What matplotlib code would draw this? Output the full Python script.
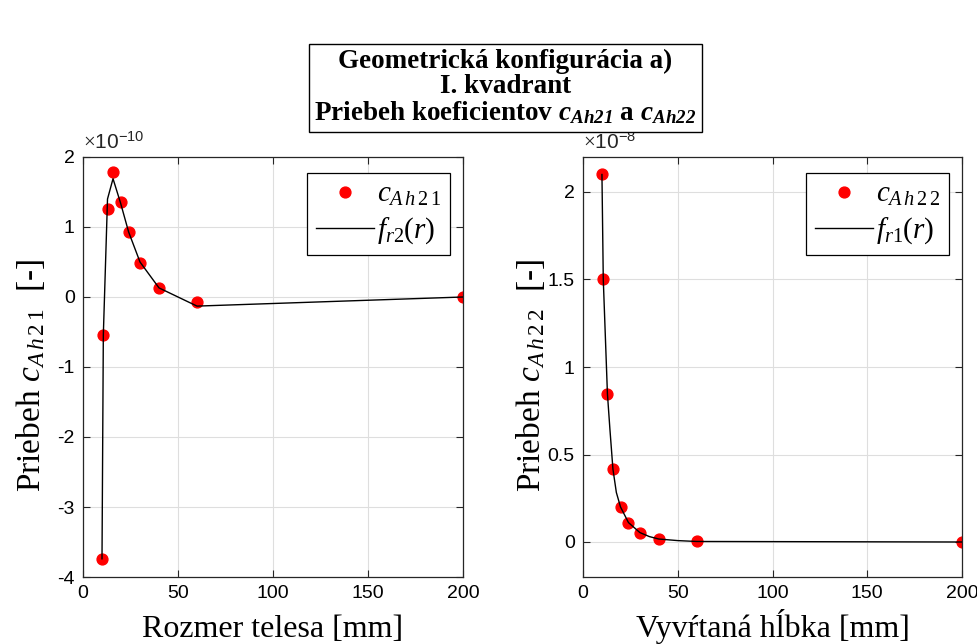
import matplotlib
matplotlib.use('Agg')
from matplotlib import pyplot as plt
from matplotlib.ticker import FuncFormatter

plt.rcParams['mathtext.fontset'] = 'custom'
plt.rcParams['mathtext.rm'] = 'Liberation Serif'
plt.rcParams['mathtext.it'] = 'Liberation Serif:italic'
plt.rcParams['mathtext.bf'] = 'Liberation Serif:bold'
plt.rcParams['mathtext.bfit'] = 'Liberation Serif:italic:bold'
plt.rcParams['mathtext.sf'] = 'Liberation Sans'
plt.rcParams['axes.unicode_minus'] = False

tick_font = ['Liberation Sans Narrow', 'Liberation Sans', 'DejaVu Sans']
serif = ['Liberation Serif', 'DejaVu Serif']

# polomer / hlbka [mm]
r = [10, 10.7, 12.9, 15.8, 19.8, 24, 30, 40, 60, 200]

# c_Ah21 (x 1e-10)
c_ah21 = [-3.74, -0.54, 1.26, 1.79, 1.36, 0.93, 0.49, 0.13, -0.07, 0.0]
# aproximacia f_r2(r)
f_r2_r = [10, 10.7, 12.9, 15.8, 19.8, 24, 30, 40, 60, 200]
f_r2 = [-3.74, -0.54, 1.40, 1.69, 1.34, 0.93, 0.50, 0.13, -0.13, 0.0]

# c_Ah22 (x 1e-8)
c_ah22 = [2.10, 1.50, 0.845, 0.416, 0.20, 0.111, 0.054, 0.017, 0.003, 0.0]
# aproximacia f_r1(r)
f_r1_r = [10, 10.7, 12.9, 14.2, 15.8, 17.6, 19.8, 24, 30, 35, 40, 50, 60, 200]
f_r1 = [2.10, 1.50, 0.845, 0.645, 0.416, 0.283, 0.20, 0.111, 0.054, 0.031,
        0.017, 0.008, 0.003, 0.0]

fig = plt.figure(figsize=(9.77, 6.44), dpi=100)
ax1 = fig.add_axes([83/977, 67/644, 380/977, 420/644])
ax2 = fig.add_axes([583/977, 67/644, 379/977, 420/644])


def c_sub(idx):
    return r'$c_{\mathit{A\,h\,' + idx[0] + r'\,' + idx[1] + '}}$'


def vykresli(ax, x, y, lx, ly, scale, ylim, yticks, body, fit, ylab, xlab, exp):
    ax.plot(lx, [v * scale for v in ly], color='black', lw=1,
            label=fit, zorder=3)
    ax.plot(x, [v * scale for v in y], 'o', color='red', ms=7.8, mec='red',
            label=body, zorder=2)
    ax.set_xlim(0, 200)
    ax.set_ylim(ylim[0] * scale, ylim[1] * scale)
    ax.set_xticks([0, 50, 100, 150, 200])
    ax.set_yticks([t * scale for t in yticks])
    ax.yaxis.set_major_formatter(FuncFormatter(lambda v, p: f'{v / scale:g}'))
    ax.grid(True, color='#dedede', lw=0.8)
    ax.set_axisbelow(True)
    ax.tick_params(direction='in', top=True, right=True, length=5,
                   width=0.8, color='#262626', labelsize=14, pad=6)
    for lab in ax.get_xticklabels() + ax.get_yticklabels():
        lab.set_family(tick_font)
    for s in ax.spines.values():
        s.set_color('#262626')
        s.set_linewidth(0.9)
    ax.set_xlabel(xlab, family=serif, fontsize=23, va='baseline')
    ax.xaxis.set_label_coords(0.5, -0.143)
    ax.set_ylabel(ylab, family=serif, fontsize=24, va='center')
    ax.yaxis.set_label_coords(-0.139, 0.48)
    ax.text(0, 1.01, r'$\times$10$^{\mathsf{-' + exp + '}}$',
            transform=ax.transAxes, family=tick_font, fontsize=15,
            color='#262626', va='bottom')
    # legenda: body nad ciarou
    h, l = ax.get_legend_handles_labels()
    leg = ax.legend([h[1], h[0]], [l[1], l[0]], loc='upper right',
                    bbox_to_anchor=(0.966, 0.962), fancybox=False,
                    edgecolor='black', framealpha=1, fontsize=21,
                    handlelength=2.0, handletextpad=0.1, borderpad=0.3,
                    labelspacing=0.25, borderaxespad=0)
    leg.get_frame().set_linewidth(0.9)
    for t in leg.get_texts():
        t.set_family(serif)


vykresli(ax1, r, c_ah21, f_r2_r, f_r2, 1e-10, (-4, 2), [-4, -3, -2, -1, 0, 1, 2],
         c_sub('21'), r'$f_{\mathit{r2}}(r)$', 'Priebeh ' + c_sub('21') + '  [-]',
         'Rozmer telesa [mm]', '10')
vykresli(ax2, r, c_ah22, f_r1_r, f_r1, 1e-8, (-0.2, 2.2), [0, 0.5, 1, 1.5, 2],
         c_sub('22'), r'$f_{\mathit{r1}}(r)$', 'Priebeh ' + c_sub('22') + '  [-]',
         'Vyvŕtaná hĺbka [mm]', '8')

fig.text(0.517, 0.864,
         'Geometrická konfigurácia a)\nI. kvadrant\n'
         r'Priebeh koeficientov $\mathbfit{c}_{\mathbfit{Ah21}}$ a $\mathbfit{c}_{\mathbfit{Ah22}}$',
         ha='center', va='center', family=serif, fontweight='bold',
         fontsize=19.5, linespacing=1.0,
         bbox=dict(boxstyle='square,pad=0.2', fc='white', ec='black', lw=1))

fig.savefig('out.png', dpi=100)
